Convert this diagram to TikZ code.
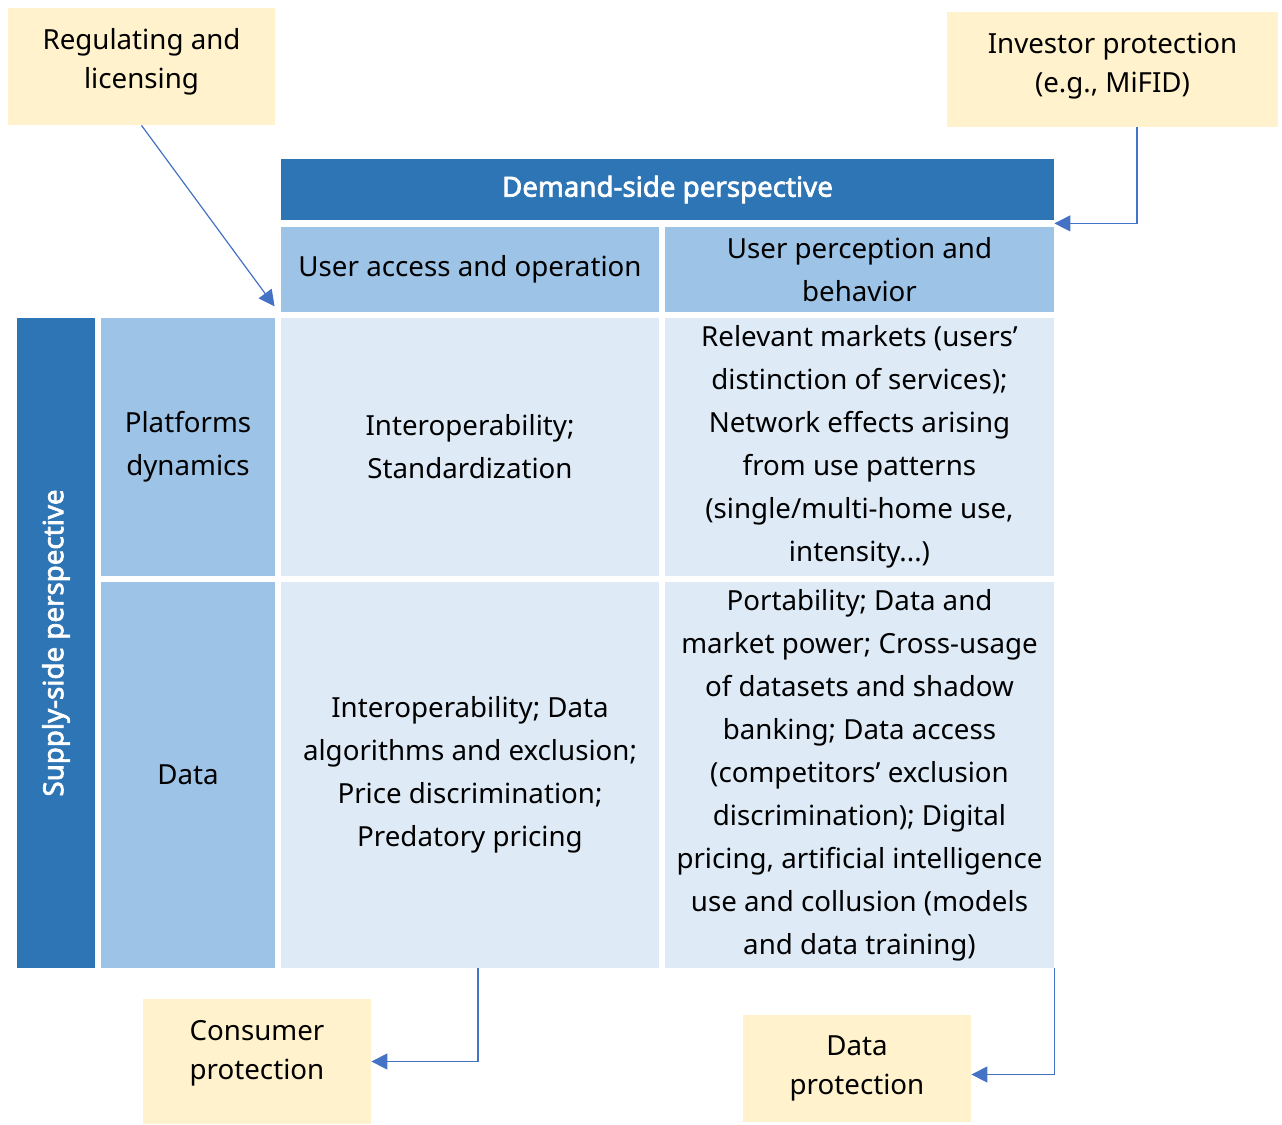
\documentclass[tikz,border=0pt]{standalone}
\usepackage{fontspec}
\setmainfont{Noto Sans}[AutoFakeBold=2.5]
\usetikzlibrary{arrows.meta}

\definecolor{darkblue}{HTML}{2E75B6}
\definecolor{midblue}{HTML}{9DC3E6}
\definecolor{paleblue}{HTML}{DEEBF7}
\definecolor{noteyellow}{HTML}{FFF2CC}
\definecolor{arrowblue}{HTML}{4472C4}

\tikzset{
  cell/.style={inner sep=0pt, align=center, font=\fontsize{13.85}{21.5}\selectfont},
  head/.style={cell, fill=darkblue, text=white, font=\fontsize{13.85}{21.5}\selectfont\bfseries},
  side/.style={cell, fill=midblue},
  body/.style={cell, fill=paleblue},
  note/.style={cell, fill=noteyellow, font=\fontsize{13.85}{19.5}\selectfont},
  link/.style={arrowblue, line width=0.6pt, -{Triangle[length=8pt,width=8pt]}}
}

\begin{document}
\begin{tikzpicture}[x=0.5pt,y=-0.5pt]
\useasboundingbox (0,0) rectangle (1282,1125);

% Regulation notes
\node[note, text depth=7.8pt, minimum width=133.5pt, minimum height=58.5pt] (reg) at (141.5,66.5) {Regulating and\\licensing};
\node[note, text depth=6.8pt, minimum width=165.5pt, minimum height=57.5pt] (inv) at (1112.5,69.5) {Investor protection\\(e.g., MiFID)};

% Demand side
\node[head, minimum width=386.5pt, minimum height=30.5pt] (demand) at (667.5,189.5) {Demand-side perspective};
\node[side, minimum width=189pt, minimum height=42.5pt] (access) at (470,269.5) {User access and operation};
\node[side, minimum width=194.5pt, minimum height=42.5pt] (percep) at (859.5,269.5) {User perception and\\behavior};

% Supply side
\node[head, rotate=90, minimum width=325pt, minimum height=39pt] (supply) at (56,643) {Supply-side perspective};
\node[side, minimum width=87pt, minimum height=129pt] (plat) at (188,447) {Platforms\\dynamics};
\node[side, minimum width=87pt, minimum height=193pt] (data) at (188,775) {Data};

% Matrix cells
\node[body, minimum width=189pt, minimum height=129pt] (c11) at (470,447) {Interoperability;\\Standardization};
\node[body, minimum width=194.5pt, minimum height=129pt] (c12) at (859.5,447)
  {Relevant markets (users’\\distinction of services);\\Network effects arising\\from use patterns\\(single/multi-home use,\\intensity...)};
\node[body, minimum width=189pt, minimum height=193pt] (c21) at (470,775)
  {Interoperability; Data\\algorithms and exclusion;\\Price discrimination;\\Predatory pricing};
\node[body, minimum width=194.5pt, minimum height=193pt] (c22) at (859.5,775)
  {Portability; Data and\\market power; Cross-usage\\of datasets and shadow\\banking; Data access\\(competitors’ exclusion\\discrimination); Digital\\pricing, artificial intelligence\\use and collusion (models\\and data training)};

% Protection notes
\node[note, text depth=11.3pt, minimum width=114pt, minimum height=62.5pt] (cons) at (257,1061.5) {Consumer\\protection};
\node[note, minimum width=114pt, minimum height=53.5pt] (dprot) at (857,1068.5) {Data\\protection};

% Links
\draw[link] (reg.south) -- ([shift={(-3pt,3pt)}]access.south west);
\draw[link] ([xshift=12.25pt]inv.south) |- ([yshift=-1.5pt]demand.south east);
\draw[link] ([xshift=4pt]c21.south) |- (cons.east);
\draw[link] (c22.south east) |- ([yshift=-3pt]dprot.east);

\end{tikzpicture}
\end{document}
